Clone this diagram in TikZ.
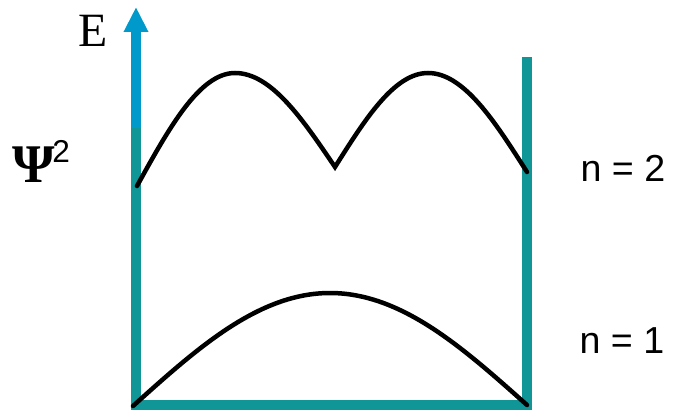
\documentclass[tikz,border=0pt]{standalone}
\usepackage{fontspec}
\setmainfont{Liberation Serif}
\setsansfont{Liberation Sans}
\usetikzlibrary{arrows.meta, positioning}

\definecolor{wallc}{RGB}{16,150,150}
\definecolor{axisc}{RGB}{0,153,204}

\begin{document}
\begin{tikzpicture}[
    x=0.02cm, y=-0.02cm,
    wall/.style={draw=wallc, line width=0.2cm, line join=miter},
    axis/.style={draw=axisc, line width=0.2cm, -{Triangle[length=0.5cm, width=0.46cm]}},
    psi/.style={draw=black, line width=0.09cm, line cap=round, line join=miter},
    lvl/.style={font=\sffamily\fontsize{21.4}{24}\selectfont, inner sep=0pt},
    lbl/.style={inner sep=0pt}
]
\useasboundingbox (0,0) rectangle (679,412);

% box corners
\coordinate (lt) at (136,57);
\coordinate (lb) at (136,405);
\coordinate (rb) at (527,405);
\coordinate (rt) at (527,57);
\coordinate (abase) at (136,128);
\coordinate (atip) at (136,7);

\draw[wall] (lt) -- (lb) -- (rb) -- (rt);
\draw[axis] (abase) -- (atip);

% n = 1
\coordinate (a0) at (133,406);
\coordinate (a1) at (330,293);
\coordinate (a2) at (527,405);
\draw[psi] (a0) sin (a1) cos (a2);

% n = 2
\coordinate (b0) at (137,186);
\coordinate (b1) at (235,73);
\coordinate (b2) at (335,167);
\coordinate (b3) at (428,73);
\coordinate (b4) at (527,172);
\draw[psi] (b0) sin (b1) cos (b2) sin (b3) cos (b4);

% labels
\node[lbl, font=\fontsize{27.2}{30}\selectfont] (elbl) at (93,31) {E};
\node[lbl, anchor=base west, font=\bfseries\fontsize{31}{34}\selectfont] (psilbl) at (12,182) {Ψ};
\node[lbl, anchor=base west, font=\sffamily\fontsize{18}{20}\selectfont] (sq) at (52,162) {2};
\node[lvl] (n2) at (623,168) {n = 2};
\node[lvl] (n1) at (622,341) {n = 1};
\end{tikzpicture}
\end{document}
